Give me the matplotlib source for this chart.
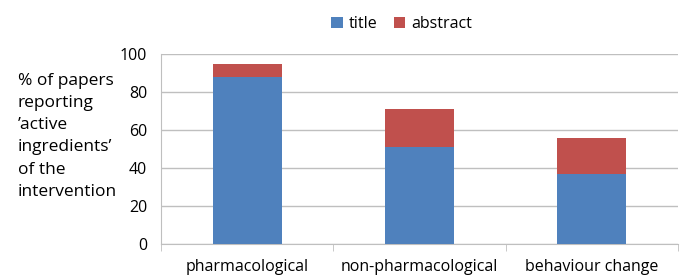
import numpy as np
import matplotlib.pyplot as plt

categories = ['pharmacological', 'non-pharmacological', 'behaviour change']
title_vals = [88, 51, 37]
abstract_vals = [7, 20, 19]

plt.rcParams['font.family'] = ['Open Sans', 'DejaVu Sans']

blue = '#4f81bd'
red = '#c0504d'

fig = plt.figure(figsize=(6.81, 2.79), dpi=100)
ax = fig.add_axes([0.2364, 0.1254, 0.759, 0.681])

x = np.arange(len(categories))
ax.bar(x, title_vals, width=0.4, color=blue, label='title', zorder=3)
ax.bar(x, abstract_vals, width=0.4, bottom=title_vals, color=red,
       label='abstract', zorder=3)

ax.set_xlim(-0.5, 2.5)
ax.set_ylim(0, 100)
ax.set_yticks(np.arange(0, 101, 20))
ax.yaxis.grid(True, color='#bfbfbf', linewidth=1, zorder=0)
ax.set_xticks(x)
ax.set_xticklabels(categories, fontsize=11.5)
ax.set_xticks([-0.5, 0.5, 1.5, 2.5], minor=True)
ax.tick_params(axis='x', which='major', length=0, pad=11)
ax.tick_params(axis='x', which='minor', length=5, color='#bfbfbf')
ax.tick_params(axis='y', length=0, labelsize=11.5, pad=10)

for side in ['top', 'right']:
    ax.spines[side].set_visible(False)
ax.spines['left'].set_color('#bfbfbf')
ax.spines['bottom'].set_color('#bfbfbf')

fig.text(0.026, 0.74,
         '% of papers\nreporting\n\u2019active\ningredients\u2019\nof the\nintervention',
         ha='left', va='top', fontsize=12.5, linespacing=1.52)

fig.legend(loc='upper center', bbox_to_anchor=(0.59, 0.995), ncol=2,
           frameon=False, fontsize=11.5, handlelength=0.7, handleheight=0.7,
           handletextpad=0.4, columnspacing=1.0)

plt.savefig('out.png', dpi=100)
